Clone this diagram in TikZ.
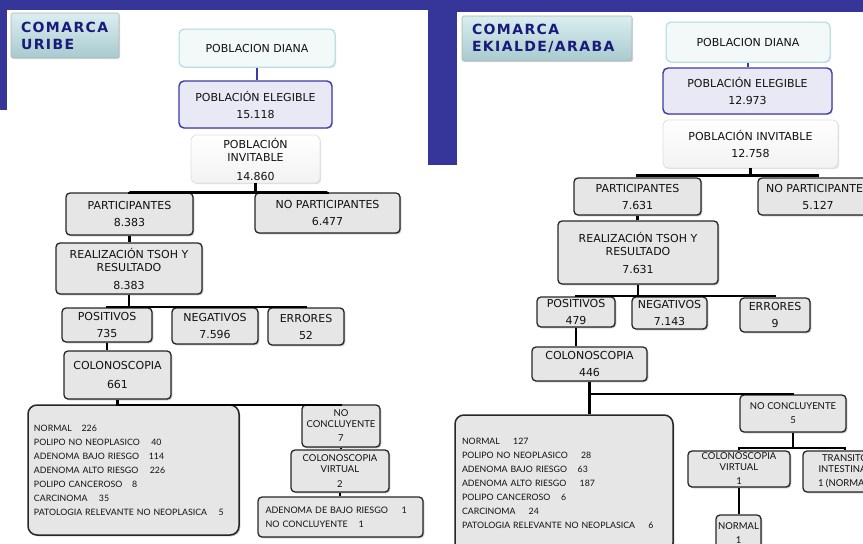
\documentclass[tikz,border=0pt]{standalone}
\usepackage{fontspec}
\setmainfont{DejaVu Sans}
\newfontfamily\thinfont{Lato}
\newfontfamily\lblfont[LetterSpace=10]{DejaVu Sans}
\usetikzlibrary{shadows}
\definecolor{bandblue}{HTML}{35359A}
\definecolor{navyline}{HTML}{3A3AA8}
\definecolor{dianafill}{HTML}{F3F9F9}
\definecolor{dianaedge}{HTML}{A9DADF}
\definecolor{eligfill}{HTML}{E9E9F5}
\definecolor{boxgray}{HTML}{E6E6E6}
\definecolor{lbltop}{HTML}{DAEEF0}
\definecolor{lblbot}{HTML}{A8CACE}
\definecolor{lbltext}{HTML}{1A1A7A}
\definecolor{txt}{HTML}{111111}
\newcommand\bx[7]{\node[#2, minimum width={(#5-#3)*1pt}, minimum height={(#6-#4)*1pt}] (#1) at ({(#3+#5)/2},{(#4+#6)/2}) {#7};}
\tikzset{
  conn/.style={line width=2.2pt, black},
  bconn/.style={line width=1.6pt, navyline},
  basebox/.style={align=center, inner sep=1pt, text=txt, font=\fontsize{11}{17}\selectfont},
  gbox/.style={basebox, draw=black!85, line width=1.3pt, fill=boxgray, rounded corners=4pt,
     drop shadow={shadow xshift=1.3pt, shadow yshift=-1.3pt, fill=black!50}},
  tbox/.style={gbox, font=\thinfont\fontsize{9.5}{11}\selectfont},
  lbox/.style={gbox, rounded corners=9pt, line width=1.5pt, align=left, font=\thinfont\fontsize{8.8}{14}\selectfont},
  dianabox/.style={basebox, draw=dianaedge, fill=dianafill, line width=1pt, rounded corners=5pt,
     drop shadow={shadow xshift=1pt, shadow yshift=-1pt, fill=black!20}},
  eligbox/.style={basebox, draw=navyline, fill=eligfill, line width=1.4pt, rounded corners=5pt,
     drop shadow={shadow xshift=1pt, shadow yshift=-1pt, fill=black!20}},
  invbox/.style={basebox, draw=black!12, top color=white, bottom color=black!5, line width=0.8pt, rounded corners=5pt,
     drop shadow={shadow xshift=1.2pt, shadow yshift=-1.2pt, fill=black!25}},
  lblbox/.style={draw=black!30, line width=0.6pt, top color=lbltop, bottom color=lblbot, rounded corners=1.5pt,
     align=left, inner sep=1pt, text=lbltext, font=\lblfont\bfseries\fontsize{14}{17}\selectfont,
     drop shadow={shadow xshift=1pt, shadow yshift=-1pt, fill=black!25}},
}
\begin{document}
\begin{tikzpicture}[x=1pt,y=-1pt]
\useasboundingbox (0,0) rectangle (863,544);
\clip (0,0) rectangle (863,544);
% background bands
\fill[bandblue] (0,0) rectangle (863,10);
\fill[bandblue] (0,0) rectangle (7,110);
\fill[bandblue] (428,0) rectangle (457,165);
\fill[bandblue] (457,0) rectangle (863,12);

% ===== LEFT: COMARCA URIBE =====
\bx{lbl1}{lblbox, text width=88pt}{11}{13}{119}{58}{COMARCA\\URIBE}
\bx{ldiana}{dianabox}{179}{29}{335}{67}{POBLACION DIANA}
\bx{lelig}{eligbox}{179}{81}{332}{128}{POBLACIÓN ELEGIBLE\\15.118}
\bx{linv}{invbox}{191}{135}{320}{183}{POBLACIÓN\\[-4pt]INVITABLE\\[2pt]14.860}
\bx{lpart}{gbox}{66}{193}{193}{235}{PARTICIPANTES\\8.383}
\bx{lnopart}{gbox}{255}{193}{400}{233}{NO PARTICIPANTES\\6.477}
\bx{lreal}{gbox}{56}{243}{202}{294}{REALIZACIÓN TSOH Y\\[-4pt]RESULTADO\\[1pt]8.383}
\bx{lpos}{gbox}{62}{308}{152}{342}{POSITIVOS\\735}
\bx{lneg}{gbox}{172}{308}{258}{344}{NEGATIVOS\\7.596}
\bx{lerr}{gbox}{268}{308}{344}{345}{ERRORES\\52}
\bx{lcol}{gbox}{64}{351}{171}{399}{COLONOSCOPIA\\[2pt]661}
\bx{lres}{lbox, text width=199pt}{28}{405}{239}{535}{NORMAL\hspace{1.1em}226\\
POLIPO NO NEOPLASICO\hspace{1.3em}40\\
ADENOMA BAJO RIESGO\hspace{1.1em}114\\
ADENOMA ALTO RIESGO\hspace{1.3em}226\\
POLIPO CANCEROSO\hspace{1.1em}8\\
CARCINOMA\hspace{1.3em}35\\
PATOLOGIA RELEVANTE NO NEOPLASICA\hspace{1.3em}5}
\bx{lnc}{tbox}{302}{405}{380}{447}{NO\\CONCLUYENTE\\[3pt]7}
\bx{lcv}{tbox}{291}{450}{389}{492}{COLONOSCOPIA\\VIRTUAL\\[4pt]2}
\bx{lad}{tbox, align=left, text width=150pt, font=\thinfont\fontsize{9}{14}\selectfont}{258}{497}{423}{537}{ADENOMA DE BAJO RIESGO\hspace{1.5em}1\\NO CONCLUYENTE\hspace{1.2em}1}

\draw[bconn] (ldiana.south) -- (ldiana.south |- lelig.north);
\draw[conn] (linv.south) -- ++(0,9) coordinate (lb1) -| (lpart.north);
\draw[conn] (lb1) -| (lnopart.north);
\draw[conn] (lpart.south) -- (lpart.south |- lreal.north);
\draw[conn] (lreal.south) -- ++(0,12) coordinate (lb2) -| (lpos.north);
\draw[conn] (lb2) -| (lneg.north);
\draw[conn] (lb2) -| (lerr.north);
\draw[conn] (lpos.south) -- (lpos.south |- lcol.north);
\draw[conn] (lcol.south) -- ++(0,5) coordinate (lb3) -| (lnc.north);
\draw[conn] (lb3) -| (lres.north);
\draw[conn] (lnc.south) -- (lnc.south |- lcv.north);
\draw[conn] (lcv.south) -- (lcv.south |- lad.north);

% ===== RIGHT: COMARCA EKIALDE/ARABA =====
\bx{lbl2}{lblbox, text width=150pt}{462}{16}{632}{61}{COMARCA\\EKIALDE/ARABA}
\bx{rdiana}{dianabox}{666}{22}{830}{62}{POBLACION DIANA}
\bx{relig}{eligbox}{663}{68}{832}{114}{POBLACIÓN ELEGIBLE\\12.973}
\bx{rinv}{invbox}{663}{120}{838}{168}{POBLACIÓN INVITABLE\\12.758}
\bx{rpart}{gbox}{574}{178}{701}{215}{PARTICIPANTES\\7.631}
\bx{rnopart}{gbox}{758}{178}{878}{215}{NO PARTICIPANTES\\5.127}
\bx{rreal}{gbox}{558}{221}{718}{284}{REALIZACIÓN TSOH Y\\[-4pt]RESULTADO\\[1pt]7.631}
\bx{rpos}{gbox}{537}{297}{615}{327}{POSITIVOS\\479}
\bx{rneg}{gbox}{632}{297}{707}{329}{NEGATIVOS\\7.143}
\bx{rerr}{gbox}{740}{298}{810}{332}{ERRORES\\9}
\bx{rcol}{gbox}{532}{347}{647}{381}{COLONOSCOPIA\\446}
\bx{rres}{lbox, text width=204pt}{455}{415}{673}{552}{NORMAL\hspace{1.5em}127\\
POLIPO NO NEOPLASICO\hspace{1.5em}28\\
ADENOMA BAJO RIESGO\hspace{1.2em}63\\
ADENOMA ALTO RIESGO\hspace{1.5em}187\\
POLIPO CANCEROSO\hspace{1.2em}6\\
CARCINOMA\hspace{1.5em}24\\
PATOLOGIA RELEVANTE NO NEOPLASICA\hspace{1.5em}6}
\bx{rnc}{tbox}{740}{395}{846}{432}{NO CONCLUYENTE\\[3pt]5}
\bx{rcv}{tbox}{688}{451}{790}{487}{COLONOSCOPIA\\VIRTUAL\\[3pt]1}
\bx{rtr}{tbox}{803}{451}{887}{492}{TRANSITO\\INTESTINAL\\[3pt]1 (NORMAL)}
\bx{rnorm}{tbox}{716}{515}{761}{552}{NORMAL\\[3pt]1}

\draw[bconn] (rdiana.south) -- (rdiana.south |- relig.north);
\draw[conn] (rinv.south) -- ++(0,7) coordinate (rb1) -| (rpart.north);
\draw[conn] (rb1) -| (rnopart.north);
\draw[conn] (rpart.south) -- (rpart.south |- rreal.north);
\draw[conn] (rreal.south) -- ++(0,11) coordinate (rb2) -| (rpos.north);
\draw[conn] (rb2) -| (rneg.north);
\draw[conn] (rb2) -| (rerr.north);
\draw[conn] (rpos.south) -- (rpos.south |- rcol.north);
\draw[conn] (rcol.south) -- ++(0,12) coordinate (rb3) -| (rnc.north);
\draw[conn] (rb3) -- (rb3 |- rres.north);
\draw[conn] (rnc.south) -- ++(0,15) coordinate (rb4) -| (rcv.north);
\draw[conn] (rb4) -| (rtr.north);
\draw[conn] (rcv.south) -- (rcv.south |- rnorm.north);
\end{tikzpicture}
\end{document}
